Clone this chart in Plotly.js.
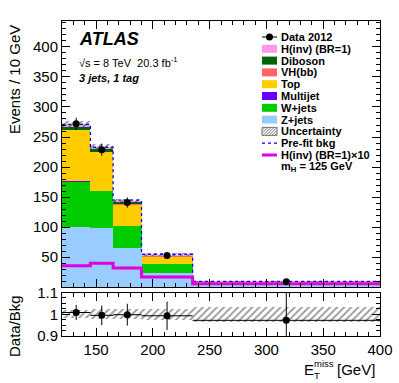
<!DOCTYPE html>
<html>
<head>
<meta charset="utf-8">
<script src="https://cdn.plot.ly/plotly-3.0.1.min.js"></script>
<style>
  html, body { margin: 0; padding: 0; background: #fff; }
  #plot { width: 399px; height: 383px; }
</style>
</head>
<body>
<div id="plot"></div>
<script>
"use strict";

// E_T^miss bins [GeV], contents in events / 10 GeV
const binEdges = [120, 145, 165, 190, 235, 400];
const zJets    = [101, 98, 66, 24, 4.5];
const wJets    = [75, 62, 36, 14, 2];
const multijet = [0.5, 0.5, 0.3, 0.1, 0];
const topQuark = [85, 64, 35, 13, 2.5];
const vhbb     = [1, 1, 0.8, 0.4, 0.1];
const diboson  = [5, 4, 3, 1.2, 0.3];
const hinv     = [4, 4, 3, 1.7, 0.6];
const bkgUnc   = [4.5, 4.5, 3.5, 2, 0.6];
const prefit   = [271, 233, 145, 55, 10];
const hinvX10  = [36, 40, 32, 17, 6];
const data     = [272, 229, 141, 53, 9.3];
const dataErr  = [10, 10, 8.5, 4, 1.5];

// lower panel
const ratio     = [1.008, 0.995, 0.998, 0.993, 0.972];
const ratioErr  = [0.035, 0.045, 0.05, 0.065, 0.2];
const ratioUnc  = [0.018, 0.022, 0.022, 0.025, 0.035];

const FONT = "Liberation Sans, Arial, Helvetica, sans-serif";

const centers = binEdges.slice(0, -1).map((e, i) => (e + binEdges[i + 1]) / 2);
const widths = binEdges.slice(0, -1).map((e, i) => binEdges[i + 1] - e);
const halfW = widths.map(w => w / 2);

// stack, bottom to top
const stack = [
  { name: "Z+jets", y: zJets, color: "#99ccff" },
  { name: "W+jets", y: wJets, color: "#00cc00" },
  { name: "Multijet", y: multijet, color: "#6600ff" },
  { name: "Top", y: topQuark, color: "#ffcc00" },
  { name: "VH(bb)", y: vhbb, color: "#ff6666" },
  { name: "Diboson", y: diboson, color: "#006600" },
  { name: "H(inv) (BR=1)", y: hinv, color: "#ff99ee" },
];

const traces = [];
let cum = centers.map(() => 0);
for (const s of stack) {
  traces.push({
    type: "bar", x: centers, y: s.y, base: cum.slice(), width: widths,
    marker: { color: s.color, line: { width: 0 } },
    xaxis: "x", yaxis: "y", hoverinfo: "skip",
  });
  cum = cum.map((c, i) => c + s.y[i]);
}
const total = cum;

const hatch = { shape: "/", fgcolor: "#222", bgcolor: "rgba(0,0,0,0)", size: 5, solidity: 0.35, fillmode: "overlay" };

// hatched uncertainty on the stack
traces.push({
  type: "bar", x: centers, width: widths,
  base: total.map((t, i) => t - bkgUnc[i]), y: bkgUnc.map(u => 2 * u),
  marker: { color: "rgba(0,0,0,0)", line: { width: 0 }, pattern: hatch },
  xaxis: "x", yaxis: "y", hoverinfo: "skip",
});

function steps(vals) {
  return { x: binEdges, y: [...vals, vals[vals.length - 1]] };
}

const pre = steps(prefit);
traces.push({
  type: "scatter", mode: "lines", x: pre.x, y: pre.y,
  line: { shape: "hv", color: "#0000ff", dash: "dot", width: 1.3 },
  xaxis: "x", yaxis: "y", hoverinfo: "skip",
});

const sig = steps(hinvX10);
traces.push({
  type: "scatter", mode: "lines", x: sig.x, y: sig.y,
  line: { shape: "hv", color: "#e000e0", width: 3 },
  xaxis: "x", yaxis: "y", hoverinfo: "skip",
});

traces.push({
  type: "scatter", mode: "markers", x: centers, y: data,
  error_y: { type: "data", array: dataErr, color: "#000", thickness: 1, width: 0 },
  marker: { color: "#000", size: 7 },
  xaxis: "x", yaxis: "y", hoverinfo: "skip",
});

// ratio panel
traces.push({
  type: "bar", x: centers, width: widths,
  base: ratioUnc.map(u => 1 - u), y: ratioUnc.map(u => 2 * u),
  marker: { color: "rgba(0,0,0,0)", line: { width: 0 }, pattern: Object.assign({}, hatch, { fgcolor: "#333" }) },
  xaxis: "x2", yaxis: "y2", hoverinfo: "skip",
});
traces.push({
  type: "scatter", mode: "markers", x: centers, y: ratio,
  error_y: { type: "data", array: ratioErr, color: "#000", thickness: 1, width: 0 },
  error_x: { type: "data", array: halfW, color: "#000", thickness: 1, width: 0 },
  marker: { color: "#000", size: 7 },
  xaxis: "x2", yaxis: "y2", hoverinfo: "skip", cliponaxis: true,
});

// pixel -> paper helpers (plot area 62..380 x 21..336)
const L = 62, R = 380, T = 21, B = 336;
const px = x => (x - L) / (R - L);
const py = y => (B - y) / (B - T);

const annotations = [];
const shapes = [];
function text(t, x, y, size, opts = {}) {
  annotations.push(Object.assign({
    text: t, xref: "paper", yref: "paper", x: px(x), y: py(y),
    xanchor: "left", yanchor: "middle", showarrow: false,
    font: { family: FONT, size: size, color: "#000" },
  }, opts));
}

text("<b><i>ATLAS</i></b>", 77, 39, 18);
text("√s = 8 TeV  20.3 fb<sup>-1</sup>", 77, 62, 11);
text("<b><i>3 jets, 1 tag</i></b>", 77, 78, 11);

// legend
const legendRows = [
  { label: "Data 2012", kind: "data" },
  { label: "H(inv) (BR=1)", kind: "box", color: "#ff99ee" },
  { label: "Diboson", kind: "box", color: "#006600" },
  { label: "VH(bb)", kind: "box", color: "#ff6666" },
  { label: "Top", kind: "box", color: "#ffcc00" },
  { label: "Multijet", kind: "box", color: "#6600ff" },
  { label: "W+jets", kind: "box", color: "#00cc00" },
  { label: "Z+jets", kind: "box", color: "#99ccff" },
  { label: "Uncertainty", kind: "hatch" },
  { label: "Pre-fit bkg", kind: "dash" },
  { label: "H(inv) (BR=1)×10", kind: "line" },
  { label: "m<sub>H</sub> = 125 GeV", kind: "none" },
];
const lx0 = 262, lx1 = 277, ly0 = 37, ldy = 11.8;
legendRows.forEach((r, i) => {
  const yc = ly0 + i * ldy;
  text("<b>" + r.label + "</b>", 279, yc, 11);
  const base = { xref: "paper", yref: "paper" };
  if (r.kind === "box") {
    shapes.push(Object.assign({ type: "rect", x0: px(lx0), x1: px(lx1), y0: py(yc + 4), y1: py(yc - 4),
      fillcolor: r.color, line: { width: 0 } }, base));
  } else if (r.kind === "data") {
    shapes.push(Object.assign({ type: "line", x0: px(lx0), x1: px(lx1), y0: py(yc), y1: py(yc), line: { color: "#000", width: 1 } }, base));
    shapes.push(Object.assign({ type: "circle", x0: px(lx0 + 4), x1: px(lx0 + 11), y0: py(yc + 3.5), y1: py(yc - 3.5),
      fillcolor: "#000", line: { width: 0 } }, base));
  } else if (r.kind === "hatch") {
    shapes.push(Object.assign({ type: "rect", x0: px(lx0), x1: px(lx1), y0: py(yc + 4), y1: py(yc - 4),
      fillcolor: "#fff", line: { color: "#777", width: 1 } }, base));
    let path = "";
    for (let k = -8; k < 15; k += 3) {
      let xa = lx0 + k, ya = yc + 4, xb = lx0 + k + 8, yb = yc - 4;
      if (xa < lx0) { ya -= (lx0 - xa); xa = lx0; }
      if (xb > lx1) { yb += (xb - lx1); xb = lx1; }
      if (xa >= xb) continue;
      path += `M${px(xa)},${py(ya)} L${px(xb)},${py(yb)} `;
    }
    shapes.push(Object.assign({ type: "path", path: path, line: { color: "#555", width: 0.8 } }, base));
  } else if (r.kind === "dash") {
    shapes.push(Object.assign({ type: "line", x0: px(lx0), x1: px(lx1), y0: py(yc), y1: py(yc), line: { color: "#0000ff", width: 1.3, dash: "dot" } }, base));
  } else if (r.kind === "line") {
    shapes.push(Object.assign({ type: "line", x0: px(lx0), x1: px(lx1), y0: py(yc), y1: py(yc), line: { color: "#e000e0", width: 3 } }, base));
  }
});

// axis titles
text("Events / 10 GeV", 14, 80, 15, { textangle: -90, xanchor: "center" });
text("Data/Bkg", 14, 326, 15, { textangle: -90, xanchor: "center" });
text("E", 302, 369, 15);
text("miss", 312, 364, 9.5);
text("T", 312, 375, 9.5);
text("[GeV]", 335, 369, 15);

const tickFont = { family: FONT, size: 15, color: "#000" };
const axisCommon = {
  showline: true, linecolor: "#000", linewidth: 1, mirror: "ticks",
  ticks: "inside", ticklen: 8, tickwidth: 1, tickcolor: "#000",
  showgrid: false, zeroline: false, tickfont: tickFont,
};

const layout = {
  width: 399, height: 383,
  margin: { l: L, r: 399 - R, t: T, b: 383 - B, pad: 0 },
  paper_bgcolor: "#fff", plot_bgcolor: "#fff",
  barmode: "overlay", bargap: 0, showlegend: false,
  font: { family: FONT, color: "#000" },
  xaxis: Object.assign({}, axisCommon, {
    anchor: "y", range: [120, 400], tick0: 0, dtick: 50, showticklabels: false,
    minor: { ticks: "inside", ticklen: 4, tickcolor: "#000", dtick: 10, tick0: 0 },
  }),
  yaxis: Object.assign({}, axisCommon, {
    domain: [py(287.3), 1], range: [0, 443],
    tickvals: [50, 100, 150, 200, 250, 300, 350, 400],
    minor: { ticks: "inside", ticklen: 4, tickcolor: "#000", dtick: 10, tick0: 0 },
  }),
  xaxis2: Object.assign({}, axisCommon, {
    anchor: "y2", matches: "x", range: [120, 400], tick0: 0, dtick: 50,
    ticklen: 8,
    minor: { ticks: "inside", ticklen: 4, tickcolor: "#000", dtick: 10, tick0: 0 },
  }),
  yaxis2: Object.assign({}, axisCommon, {
    domain: [0, py(292.5)], range: [0.9, 1.1],
    tickvals: [0.9, 1, 1.1], ticktext: ["0.9", "1", "1.1"], ticklen: 8,
    minor: { ticks: "inside", ticklen: 4, tickcolor: "#000", dtick: 0.025, tick0: 0.9 },
  }),
  annotations: annotations,
  shapes: shapes,
};

Plotly.newPlot("plot", traces, layout, { staticPlot: true, displayModeBar: false });
</script>
</body>
</html>
